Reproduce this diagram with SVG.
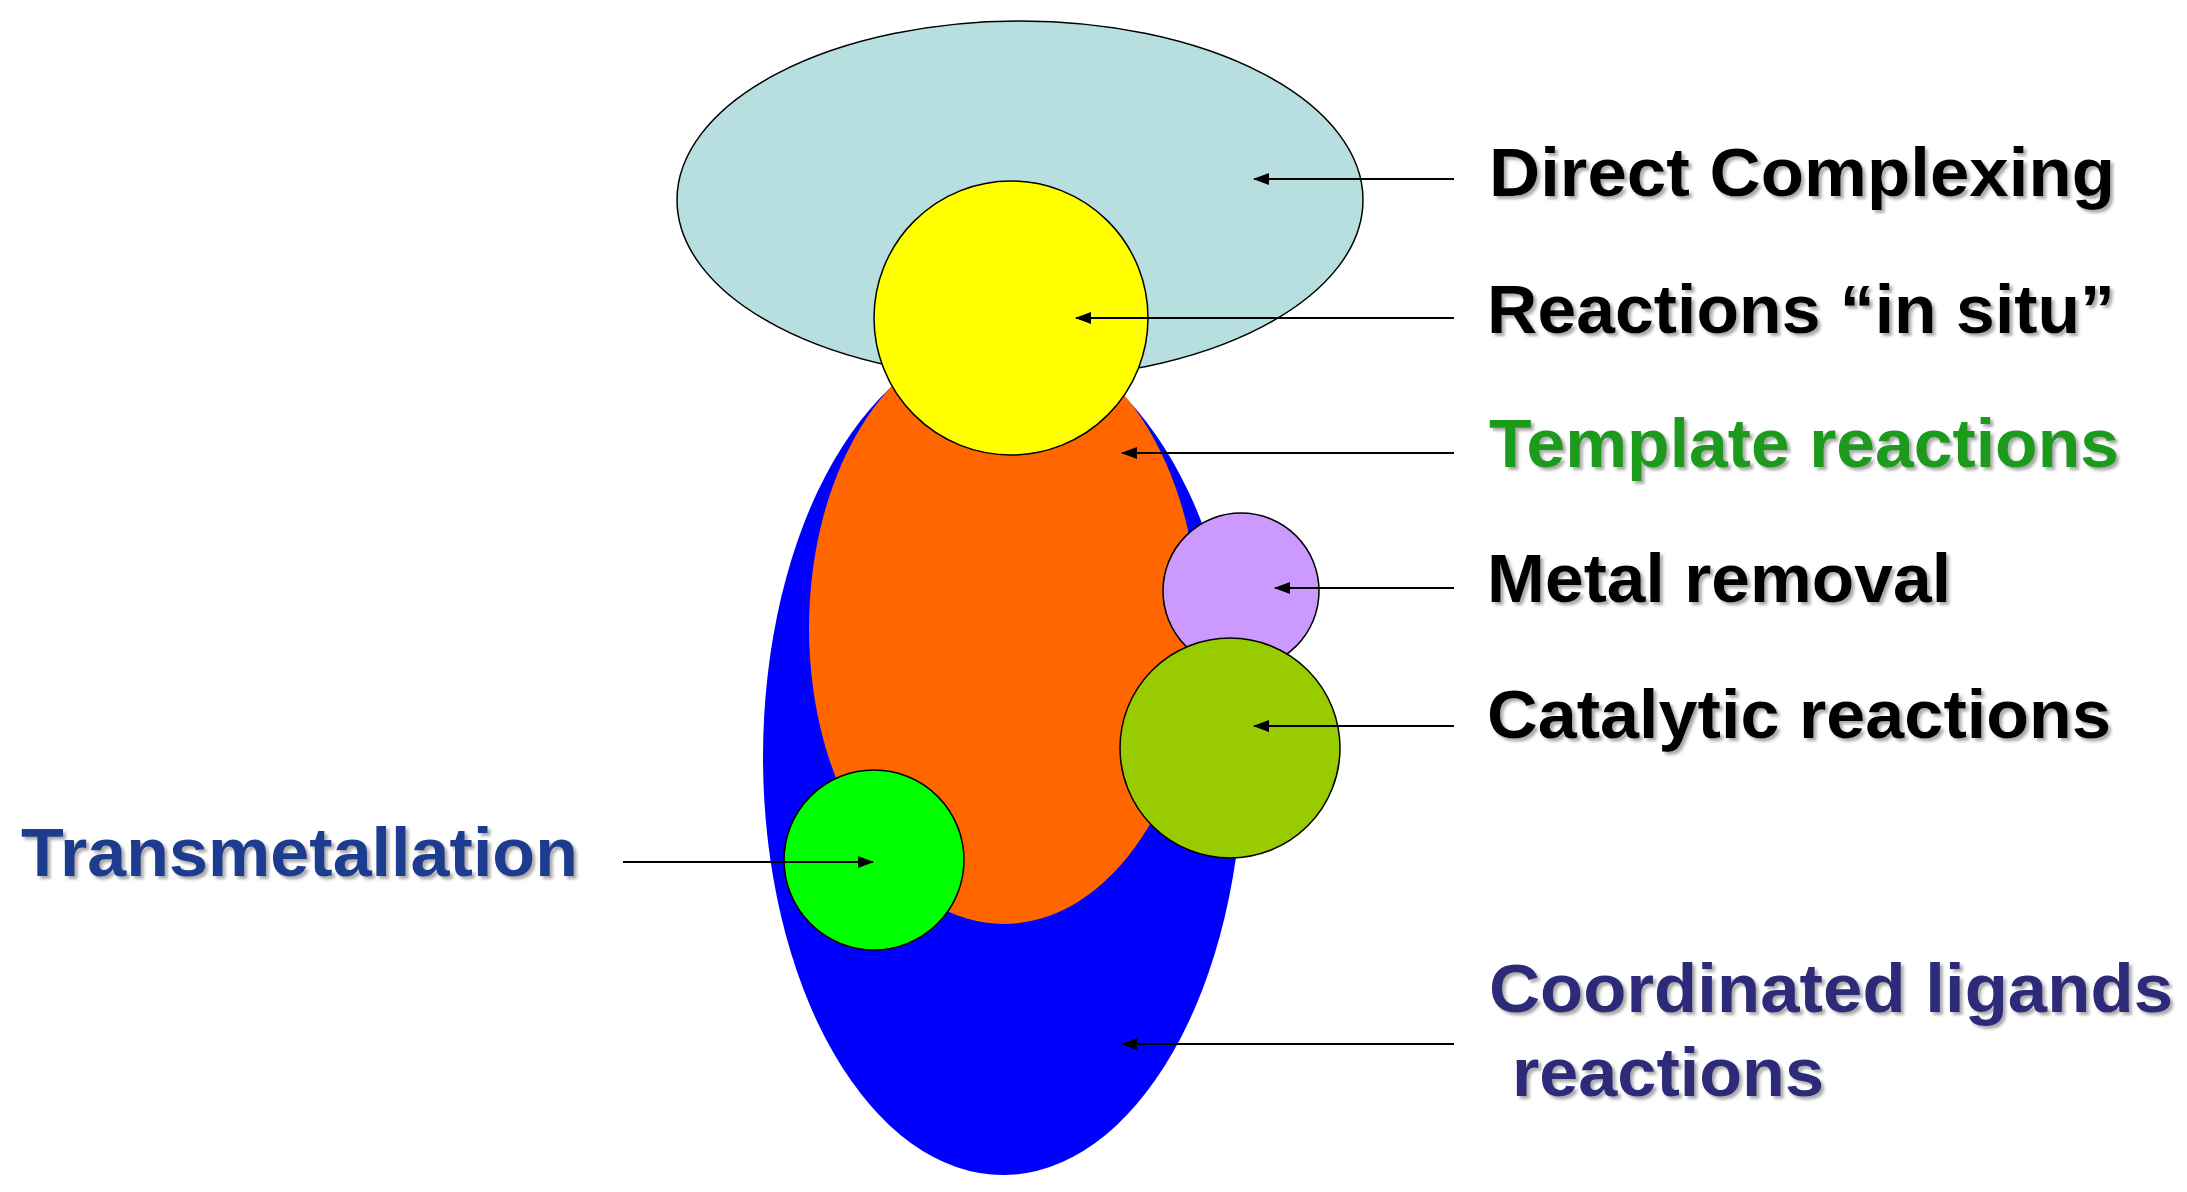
<svg xmlns="http://www.w3.org/2000/svg" width="2187" height="1192" viewBox="0 0 2187 1192">
<defs>
<marker id="ah" markerWidth="16" markerHeight="12" refX="15" refY="6" orient="auto" markerUnits="userSpaceOnUse" viewBox="0 0 16 12"><path d="M0,0 L16,6 L0,12 z" fill="#000"/></marker>
<filter id="sh" x="-5%" y="-20%" width="110%" height="140%"><feDropShadow dx="3" dy="3" stdDeviation="1.5" flood-color="#888" flood-opacity="0.7"/></filter>
</defs>
<style>
.lbl{font-family:"Liberation Sans",Arial,sans-serif;font-weight:bold;font-size:68px;filter:url(#sh)}
.con{stroke:#000;stroke-width:2;fill:none;marker-end:url(#ah)}
</style>
<rect width="2187" height="1192" fill="#fff"/>
<g id="coordinated"><ellipse cx="1003" cy="757" rx="240" ry="418" fill="#0000ff"/></g>
<g id="direct"><ellipse cx="1020" cy="200" rx="343" ry="179" fill="#b8dfe0" stroke="#000" stroke-width="1.5"/></g>
<g id="template"><ellipse cx="1004" cy="628" rx="195" ry="296" fill="#ff6600"/></g>
<g id="insitu"><circle cx="1011" cy="318" r="137" fill="#ffff00" stroke="#000" stroke-width="1.5"/></g>
<g id="metal"><circle cx="1241" cy="591" r="78" fill="#cc99ff" stroke="#000" stroke-width="1.5"/></g>
<g id="catalytic"><circle cx="1230" cy="748" r="110" fill="#99cc00" stroke="#000" stroke-width="1.5"/></g>
<g id="trans"><circle cx="874" cy="860" r="90" fill="#00ff00" stroke="#000" stroke-width="1.5"/></g>
<g id="connectors">
<line class="con" x1="1454" y1="179" x2="1254" y2="179"/>
<line class="con" x1="1454" y1="318" x2="1076" y2="318"/>
<line class="con" x1="1454" y1="453" x2="1122" y2="453"/>
<line class="con" x1="1454" y1="588" x2="1275" y2="588"/>
<line class="con" x1="1454" y1="726" x2="1254" y2="726"/>
<line class="con" x1="1454" y1="1044" x2="1122" y2="1044"/>
<line class="con" x1="623" y1="862" x2="873" y2="862"/>
</g>
<g id="labels">
<text class="lbl" x="1489" y="196" textLength="626" lengthAdjust="spacingAndGlyphs" fill="#000">Direct Complexing</text>
<text class="lbl" x="1487" y="333" textLength="628" lengthAdjust="spacingAndGlyphs" fill="#000">Reactions “in situ”</text>
<text class="lbl" x="1489" y="467" textLength="630" lengthAdjust="spacingAndGlyphs" fill="#1a9a1a">Template reactions</text>
<text class="lbl" x="1487" y="602" textLength="464" lengthAdjust="spacingAndGlyphs" fill="#000">Metal removal</text>
<text class="lbl" x="1487" y="738" textLength="624" lengthAdjust="spacingAndGlyphs" fill="#000">Catalytic reactions</text>
<text class="lbl" x="1489" y="1012" textLength="684" lengthAdjust="spacingAndGlyphs" fill="#2e2a7a">Coordinated ligands</text>
<text class="lbl" x="1512" y="1096" textLength="312" lengthAdjust="spacingAndGlyphs" fill="#2e2a7a">reactions</text>
<text class="lbl" x="21" y="876" textLength="557" lengthAdjust="spacingAndGlyphs" fill="#1f3d8f">Transmetallation</text>
</g>
</svg>
